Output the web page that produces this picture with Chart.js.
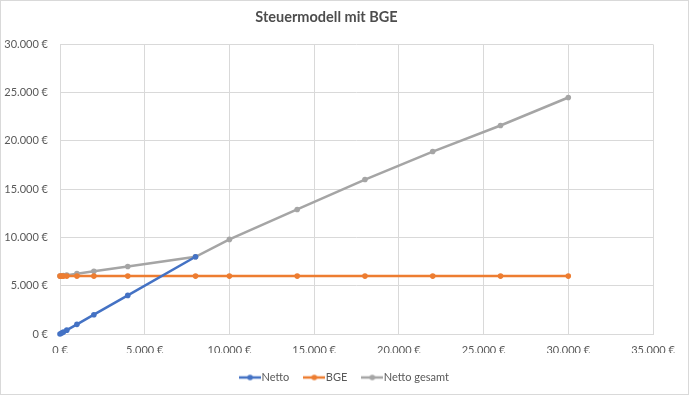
<!DOCTYPE html>
<html>
<head>
<meta charset="utf-8">
<script src="https://cdn.jsdelivr.net/npm/chart.js@4"></script>
<style>
  html, body { margin: 0; padding: 0; background: #fff; }
  #wrap { position: absolute; left: 0; top: 0; width: 690px; height: 396px; }
</style>
</head>
<body>
<div id="wrap"><canvas id="chart" width="690" height="396"></canvas></div>
<script>
// Einkommen (x) je Serie
const nettoIncome = [0, 100, 200, 400, 1000, 2000, 4000, 8000];
const nettoValues = [0, 100, 200, 400, 1000, 2000, 4000, 8000];

const bgeIncome = [0, 100, 200, 400, 1000, 2000, 4000, 8000, 10000, 14000, 18000, 22000, 26000, 30000];
const bgeValues = [6000, 6000, 6000, 6000, 6000, 6000, 6000, 6000, 6000, 6000, 6000, 6000, 6000, 6000];

const gesamtIncome = [0, 100, 200, 400, 1000, 2000, 4000, 8000, 10000, 14000, 18000, 22000, 26000, 30000];
const gesamtValues = [6000, 6025, 6050, 6100, 6250, 6500, 7000, 8000, 9800, 12900, 16000, 18900, 21600, 24500];

const seriesNames = ["Netto", "BGE", "Netto gesamt"];
const seriesColors = ["#4472C4", "#ED7D31", "#A5A5A5"];

const xTicksMax = 35000;
const yTicksMax = 30000;
const tickStep = 5000;

const fontFamily = "Lato, 'Open Sans', sans-serif";
const textColor = "#595959";
const gridColor = "#d9d9d9";

function euro(v) {
  const s = String(Math.round(v)).replace(/\B(?=(\d{3})+(?!\d))/g, ".");
  return s + " €";
}

function toPoints(xs, ys) {
  return xs.map((x, i) => ({ x: x, y: ys[i] }));
}

// kleines Legendensymbol: Linie mit Punkt
function legendIcon(color) {
  const c = document.createElement("canvas");
  c.width = 22;
  c.height = 8;
  const g = c.getContext("2d");
  g.strokeStyle = color;
  g.lineWidth = 2.5;
  g.beginPath();
  g.moveTo(0, 4);
  g.lineTo(22, 4);
  g.stroke();
  g.fillStyle = color;
  g.beginPath();
  g.arc(11, 4, 2.8, 0, Math.PI * 2);
  g.fill();
  return c;
}

const allData = [
  toPoints(nettoIncome, nettoValues),
  toPoints(bgeIncome, bgeValues),
  toPoints(gesamtIncome, gesamtValues)
];

const chartBorder = {
  id: "chartBorder",
  beforeDraw(chart) {
    const ctx = chart.ctx;
    ctx.save();
    ctx.fillStyle = "#fff";
    ctx.fillRect(0, 0, chart.width, chart.height);
    ctx.strokeStyle = gridColor;
    ctx.lineWidth = 1;
    ctx.strokeRect(0.5, 0.5, 688, 394);
    ctx.restore();
  },
  // Legende mittig unter dem ganzen Diagramm statt nur links vom Rand
  afterLayout(chart) {
    const lg = chart.legend;
    if (lg) {
      lg.left += 20;
      lg.right += 20;
    }
  }
};

new Chart(document.getElementById("chart"), {
  type: "line",
  data: {
    datasets: seriesNames.map((name, i) => ({
      label: name,
      data: allData[i],
      borderColor: seriesColors[i],
      backgroundColor: seriesColors[i],
      borderWidth: 2.5,
      pointRadius: 2.8,
      pointHoverRadius: 3,
      pointBorderWidth: 0,
      pointStyle: "circle",
      tension: 0,
      fill: false,
      clip: false
    }))
  },
  options: {
    responsive: false,
    animation: false,
    layout: { padding: { left: 0, right: 37, top: 0, bottom: 3 } },
    scales: {
      x: {
        type: "linear",
        min: 0,
        max: xTicksMax,
        ticks: {
          stepSize: tickStep,
          color: textColor,
          font: { family: fontFamily, size: 11 },
          padding: 10,
          maxRotation: 0,
          callback: v => euro(v)
        },
        grid: { color: gridColor, drawTicks: false },
        border: { color: gridColor },
        afterFit(scale) { scale.height = 19; }
      },
      y: {
        min: 0,
        max: yTicksMax,
        ticks: {
          stepSize: tickStep,
          color: textColor,
          font: { family: fontFamily, size: 11 },
          padding: 12,
          callback: v => euro(v)
        },
        grid: { color: gridColor, drawTicks: false },
        border: { display: false },
        afterFit(scale) { scale.width = 60; }
      }
    },
    plugins: {
      title: {
        display: true,
        text: "Steuermodell mit BGE",
        color: "#4d4d4d",
        font: { family: fontFamily, size: 14.5, weight: "bold" },
        padding: { top: 9, bottom: 18 }
      },
      legend: {
        position: "bottom",
        labels: {
          color: textColor,
          font: { family: fontFamily, size: 11 },
          usePointStyle: true,
          pointStyleWidth: 12,
          padding: 19,
          generateLabels(chart) {
            return chart.data.datasets.map((ds, i) => ({
              text: ds.label,
              fillStyle: ds.borderColor,
              strokeStyle: ds.borderColor,
              fontColor: textColor,
              pointStyle: legendIcon(ds.borderColor),
              lineWidth: 0,
              datasetIndex: i,
              hidden: false
            }));
          }
        }
      },
      tooltip: { enabled: false }
    }
  },
  plugins: [chartBorder]
});
</script>
</body>
</html>
